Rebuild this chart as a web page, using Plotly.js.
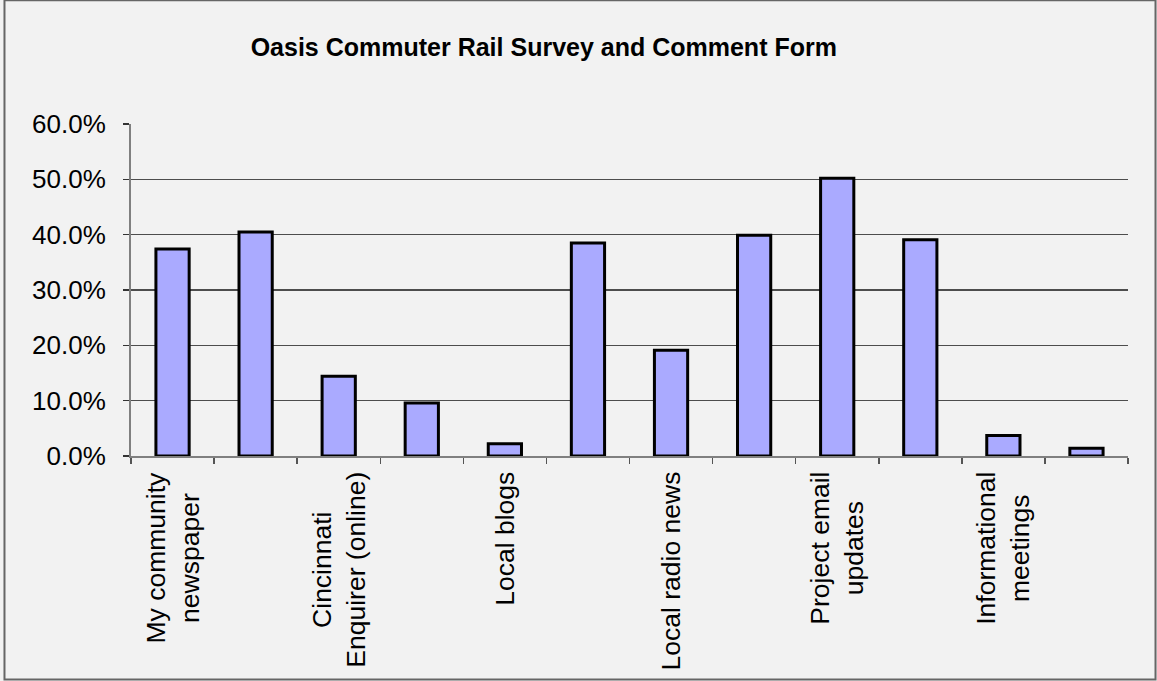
<!DOCTYPE html>
<html>
<head>
<meta charset="utf-8">
<script src="https://cdn.plot.ly/plotly-3.0.1.min.js"></script>
<style>html,body{margin:0;padding:0;background:#f2f2f2;}#chart{width:1157px;height:681px;}</style>
</head>
<body>
<div id="chart"></div>
<script>
// Data
var chartTitle = "Oasis Commuter Rail Survey and Comment Form";
var positions = [0, 1, 2, 3, 4, 5, 6, 7, 8, 9, 10, 11];
var shares = [0.374, 0.405, 0.144, 0.096, 0.022, 0.385, 0.191, 0.399, 0.502, 0.391, 0.037, 0.014];
var labelPositions = [0, 2, 4, 6, 8, 10];
var labelTexts = [
  "My community<br>newspaper",
  "Cincinnati<br>Enquirer (online)",
  "Local blogs",
  "Local radio news",
  "Project email<br>updates",
  "Informational<br>meetings"
];
var yTicks = [0, 0.1, 0.2, 0.3, 0.4, 0.5, 0.6];

var FONT = "Liberation Sans, Arial, sans-serif";
var boundaries = positions.map(function(p){ return p - 0.5; }).concat([positions[positions.length-1] + 0.5]);

var trace = {
  type: "bar",
  x: positions,
  y: shares,
  marker: { color: "#aaaaff", line: { color: "#000000", width: 3 } },
  hoverinfo: "y"
};

var annotations = labelPositions.map(function(p, i){
  return {
    x: p, xref: "x",
    y: -0.042, yref: "paper",
    text: labelTexts[i],
    showarrow: false,
    textangle: -90,
    xanchor: "center", yanchor: "top",
    align: "center",
    font: { family: FONT, size: 26.5, color: "#000" }
  };
});

var layout = {
  width: 1157, height: 681,
  paper_bgcolor: "#f2f2f2",
  plot_bgcolor: "#f2f2f2",
  margin: { l: 131, r: 29, t: 124, b: 225 },
  showlegend: false,
  title: {
    text: "<b>" + chartTitle + "</b>",
    font: { family: FONT, size: 25, color: "#000" },
    x: 0.47, xref: "container", xanchor: "center",
    y: 0.931, yref: "container", yanchor: "middle"
  },
  bargap: 0.6,
  xaxis: {
    range: [-0.5, 11.5],
    showticklabels: false,
    ticks: "",
    showgrid: false,
    zeroline: false,
    showline: true, linecolor: "#808080", linewidth: 2,
    minor: { tickmode: "array", tickvals: boundaries, ticks: "outside", ticklen: 6, tickwidth: 1.5, tickcolor: "#555", showgrid: false }
  },
  yaxis: {
    range: [0, 0.6],
    tickvals: yTicks,
    tickformat: ".1%",
    ticks: "outside", ticklen: 6, tickwidth: 1.5, tickcolor: "#333",
    showgrid: true, gridcolor: "#4d4d4d", gridwidth: 1.2,
    zeroline: false,
    showline: true, linecolor: "#808080", linewidth: 2,
    ticklabelstandoff: 12,
    tickfont: { family: FONT, size: 26, color: "#000" }
  },
  annotations: annotations,
  shapes: [{
    type: "rect", xref: "paper", yref: "paper",
    x0: -0.1269, x1: 1.0276, y0: -0.6732, y1: 1.3725,
    line: { color: "#666666", width: 2 }, fillcolor: "rgba(0,0,0,0)", layer: "below"
  }]
};

Plotly.newPlot("chart", [trace], layout, { displayModeBar: false, staticPlot: true });
</script>
</body>
</html>
